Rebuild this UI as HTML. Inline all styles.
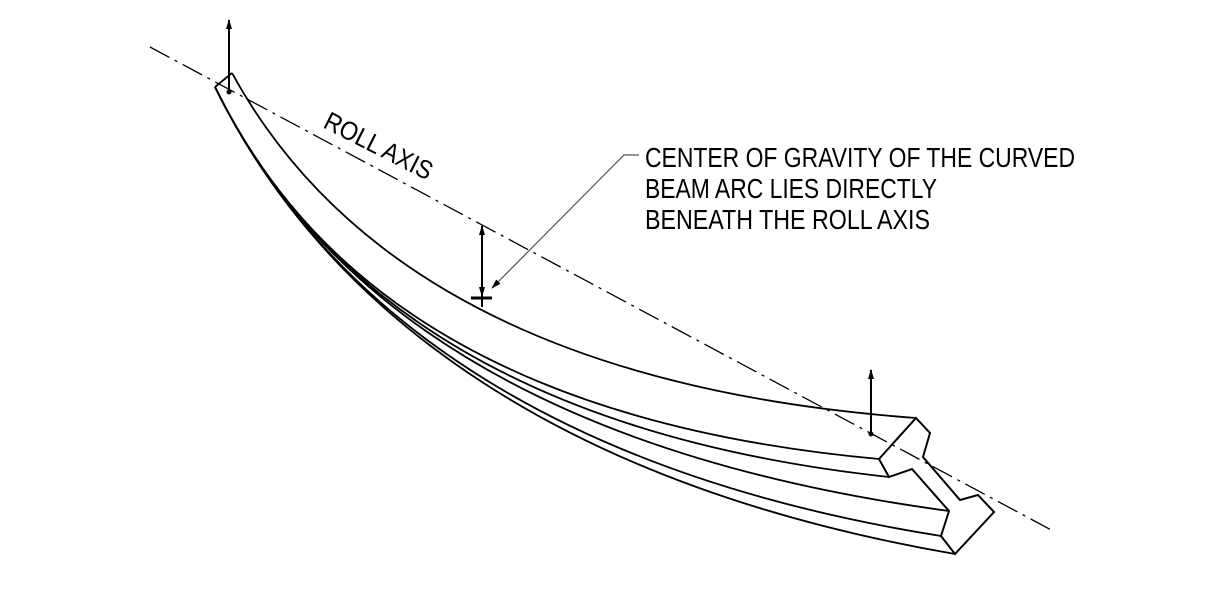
<!DOCTYPE html>
<html><head><meta charset="utf-8"><style>
html,body{margin:0;padding:0;background:#fff;}
svg{display:block;}
text{font-family:"Liberation Sans",sans-serif;fill:#000;}
</style></head><body>
<svg width="1220" height="609" viewBox="0 0 1220 609" xmlns="http://www.w3.org/2000/svg">
<defs>
<marker id="ah" markerWidth="10" markerHeight="10" refX="9" refY="5" orient="auto" markerUnits="userSpaceOnUse">
<path d="M0,2 L10,5 L0,8 Z" fill="#000"/>
</marker>
</defs>
<line x1="150" y1="47" x2="1055" y2="532" stroke="#000" stroke-width="1.3" stroke-dasharray="22,6,3,6"/>
<text x="0" y="0" font-size="26" textLength="118" lengthAdjust="spacingAndGlyphs" transform="translate(322,127) rotate(27)">ROLL AXIS</text>
<g fill="none" stroke="#000" stroke-width="1.8" stroke-linejoin="miter">
<path d="M215,87 L232,73"/>
<path d="M232,73 Q400,380 916,418"/>
<path d="M215,87 C290,240 450,420 879,459"/>
<path d="M215,87 C290,240 455,430 889,477"/>
<path d="M215,87 C290,240 460,445 949,511"/>
<path d="M215,87 C290,240 465,460 941,536"/>
<path d="M215,87 C290,240 470,470 955,554"/>
<path d="M916,418 L930,433 L923,457 L960,500 L978,495 L994,512 L955,554 L941,536 L949,511 L912,469 L889,477 L879,459 Z" stroke-width="2"/>
</g>
<g stroke="#000" stroke-width="2">
<line x1="229" y1="92" x2="229" y2="20" marker-end="url(#ah)"/>
<line x1="871" y1="434" x2="871" y2="370" marker-end="url(#ah)"/>
<line x1="482" y1="265" x2="482" y2="226" marker-end="url(#ah)"/>
<line x1="482" y1="265" x2="482" y2="296" marker-end="url(#ah)"/>
<line x1="482" y1="296" x2="482" y2="307"/>
<line x1="471" y1="298" x2="492" y2="298" stroke-width="3"/>
</g>
<circle cx="229" cy="92" r="2.5" fill="#000"/>
<circle cx="871" cy="434" r="2.5" fill="#000"/>
<polyline points="639,155 624,155 492,288" fill="none" stroke="#555" stroke-width="1.2" marker-end="url(#ah)"/>
<g font-size="28">
<text x="645" y="167" textLength="430" lengthAdjust="spacingAndGlyphs">CENTER OF GRAVITY OF THE CURVED</text>
<text x="645" y="198" textLength="292" lengthAdjust="spacingAndGlyphs">BEAM ARC LIES DIRECTLY</text>
<text x="645" y="229" textLength="285" lengthAdjust="spacingAndGlyphs">BENEATH THE ROLL AXIS</text>
</g>
</svg>
</body></html>
